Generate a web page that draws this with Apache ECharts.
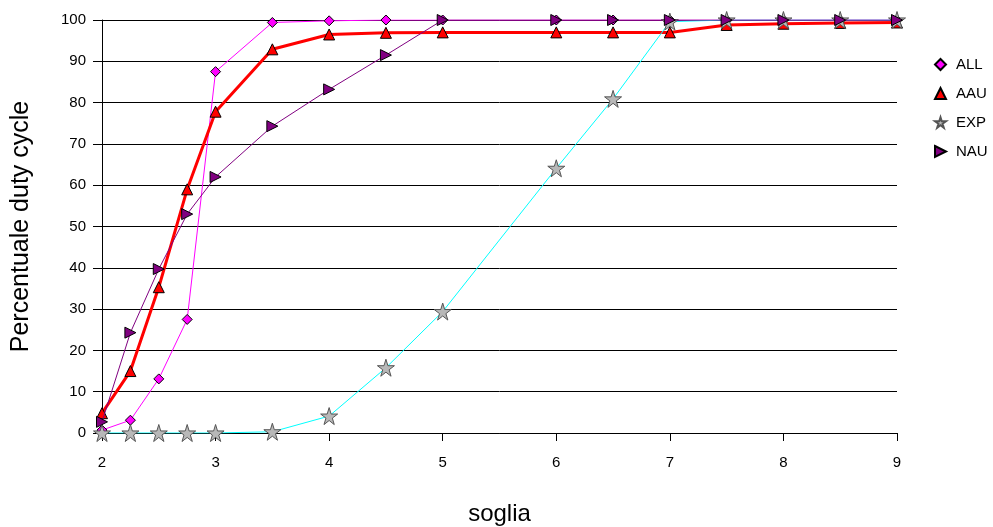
<!DOCTYPE html>
<html>
<head>
  <meta charset="utf-8" />
  <title>duty cycle</title>
  <style>
    html, body { margin: 0; padding: 0; background: #fff; }
    #chart { width: 993px; height: 527px; }
  </style>
</head>
<body>
  <div id="chart"></div>
  <script src="https://cdn.jsdelivr.net/npm/echarts@6/dist/echarts.min.js"></script>
  <script>
    // soglia
    var soglia = [2, 2.25, 2.5, 2.75, 3, 3.5, 4, 4.5, 5, 6, 6.5, 7, 7.5, 8, 8.5, 9];
    var allVals = [0.7, 3.1, 13.1, 27.5, 87.5, 99.4, 99.8, 100, 100, 100, 100, 100, 100, 100, 100, 100];
    var aauVals = [4.8, 15, 35.3, 59, 77.8, 92.9, 96.5, 96.9, 97, 97, 97, 97, 98.8, 99.1, 99.3, 99.4];
    var expVals = [0, 0, 0, 0, 0, 0.3, 4.1, 15.8, 29.4, 64.1, 80.9, 99.6, 100, 100, 100, 100];
    var nauVals = [2.7, 24.3, 39.7, 53, 62, 74.3, 83.2, 91.5, 100, 100, 100, 100, 100, 100, 100, 100];
    var seriesNames = ['ALL', 'AAU', 'EXP', 'NAU'];

    var font = 'Liberation Sans, Arial, sans-serif';
    var starPath = 'path://M50,0L61,35L98,35L68,57L79,92L50,70L21,92L32,57L2,35L39,35Z';
    var rightTri = 'path://M0,0L10,5L0,10Z';
    var icons = ['diamond', 'triangle', starPath, rightTri];

    function pairs(vals) {
      var out = [];
      for (var i = 0; i < soglia.length; i++) {
        out.push([soglia[i], vals[i]]);
      }
      return out;
    }

    var myChart = echarts.init(document.getElementById('chart'));
    var option = {
      animation: false,
      grid: { left: 102, right: 96, top: 20, bottom: 94, outerBoundsMode: 'none' },
      legend: {
        orient: 'vertical',
        left: 929,
        top: 52,
        itemGap: 14,
        itemWidth: 11,
        itemHeight: 11,
        textStyle: { fontFamily: font, fontSize: 15, color: '#000', padding: [0, 0, 0, 5] },
        data: seriesNames.map(function (n, i) {
          return { name: n, icon: icons[i] };
        })
      },
      xAxis: {
        type: 'value',
        min: 2,
        max: 9,
        interval: 1,
        name: 'soglia',
        nameLocation: 'middle',
        nameGap: 69,
        nameTextStyle: { fontFamily: font, fontSize: 24, color: '#000' },
        axisLine: { show: true, lineStyle: { color: '#000', width: 1 } },
        axisTick: { show: true, inside: false, length: 8, lineStyle: { color: '#000' } },
        axisLabel: { fontFamily: font, fontSize: 15, color: '#000', margin: 22 },
        splitLine: { show: false }
      },
      yAxis: {
        type: 'value',
        min: 0,
        max: 100,
        interval: 10,
        name: 'Percentuale duty cycle',
        nameLocation: 'middle',
        nameGap: 68,
        nameTextStyle: { fontFamily: font, fontSize: 25, color: '#000' },
        axisLine: { show: true, lineStyle: { color: '#000', width: 1 } },
        axisTick: { show: true, length: 9, lineStyle: { color: '#000' } },
        axisLabel: { fontFamily: font, fontSize: 15, color: '#000', margin: 16 },
        splitLine: { show: true, lineStyle: { color: '#000', width: 1 } }
      },
      series: [{
        name: 'ALL',
        type: 'line',
        data: pairs(allVals),
        symbol: 'diamond',
        symbolSize: 10,
        lineStyle: { color: '#ff00ff', width: 1 },
        itemStyle: { color: '#ff00ff', borderColor: '#000', borderWidth: 1 },
        z: 2
      }, {
        name: 'AAU',
        type: 'line',
        data: pairs(aauVals),
        symbol: 'triangle',
        symbolSize: 11,
        lineStyle: { color: '#ff0000', width: 3 },
        itemStyle: { color: '#ff0000', borderColor: '#000', borderWidth: 1 },
        z: 3
      }, {
        name: 'EXP',
        type: 'line',
        data: pairs(expVals),
        symbol: starPath,
        symbolSize: 17,
        lineStyle: { color: '#00ffff', width: 1 },
        itemStyle: { color: '#b8b8b8', borderColor: '#555', borderWidth: 1 },
        z: 4
      }, {
        name: 'NAU',
        type: 'line',
        data: pairs(nauVals),
        symbol: rightTri,
        symbolSize: 11,
        lineStyle: { color: '#800080', width: 1 },
        itemStyle: { color: '#800080', borderColor: '#000', borderWidth: 1 },
        z: 5
      }]
    };
    myChart.setOption(option);
  </script>
</body>
</html>
